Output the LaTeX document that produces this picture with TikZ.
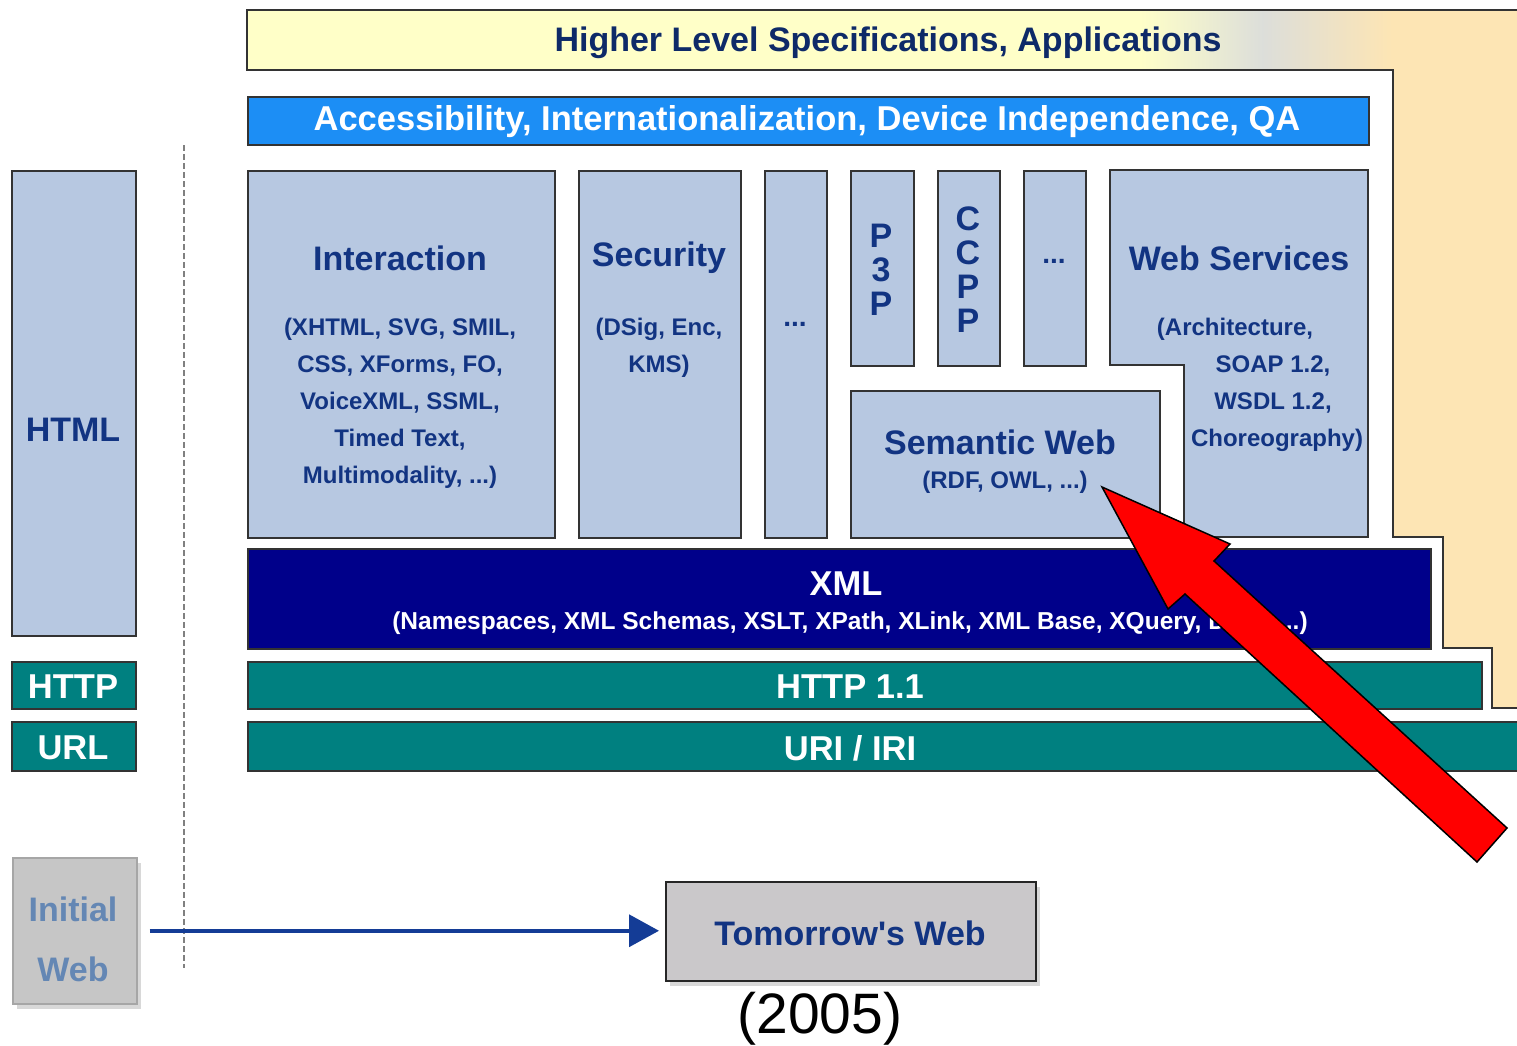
\documentclass[tikz,border=0pt]{standalone}
\usepackage{fontspec}
\setmainfont{Liberation Sans}
\usetikzlibrary{arrows.meta,shadows}

\definecolor{txtblue}{RGB}{18,52,130}
\definecolor{stackblue}{RGB}{183,200,225}
\definecolor{navy}{RGB}{0,0,138}
\definecolor{tealbar}{RGB}{0,128,128}
\definecolor{accblue}{RGB}{28,142,245}
\definecolor{lightyel}{RGB}{255,255,200}
\definecolor{midgray}{RGB}{220,222,218}
\definecolor{peach}{RGB}{253,229,180}
\definecolor{oldgray}{RGB}{198,198,198}
\definecolor{oldtext}{RGB}{100,135,180}
\definecolor{newgray}{RGB}{202,200,202}
\definecolor{linkblue}{RGB}{20,60,150}

\begin{document}
\begin{tikzpicture}[x=1pt,y=-1pt,
  outline/.style={draw=black!80, line width=1.8pt},
  tech/.style={outline, fill=stackblue, inner sep=0pt, anchor=north west},
  bar/.style={outline, inner sep=0pt, anchor=north west},
  head/.style={font=\fontsize{34}{40}\selectfont\bfseries, text=txtblue},
  body/.style={font=\fontsize{24}{37}\selectfont\bfseries, text=txtblue, align=center},
  bartext/.style={font=\fontsize{34.5}{40}\selectfont\bfseries, text=white},
  subtext/.style={font=\fontsize{24.5}{30}\selectfont\bfseries, text=white},
  webbox/.style={inner sep=0pt, anchor=north west,
    drop shadow={shadow xshift=4pt, shadow yshift=-5pt, opacity=0.3}},
]
\useasboundingbox (0,0) rectangle (1517,1046);
\clip (0,0) rectangle (1517,1046);
\fill[white] (0,0) rectangle (1517,1046);

% stepped background frame: higher level specifications
\fill[lightyel] (247,10) -- (1530,10) -- (1530,708) -- (1492,708) -- (1492,648)
  -- (1443,648) -- (1443,537) -- (1393,537) -- (1393,70) -- (247,70) -- cycle;
\begin{scope}
  \clip (247,10) -- (1530,10) -- (1530,708) -- (1492,708) -- (1492,648)
    -- (1443,648) -- (1443,537) -- (1393,537) -- (1393,70) -- (247,70) -- cycle;
  \shade[left color=lightyel, right color=midgray] (1140,0) rectangle (1263,720);
  \shade[left color=midgray, right color=peach] (1262,0) rectangle (1392,720);
  \fill[peach] (1391,0) rectangle (1530,720);
\end{scope}
\draw[outline] (247,10) -- (1530,10) -- (1530,708) -- (1492,708) -- (1492,648)
  -- (1443,648) -- (1443,537) -- (1393,537) -- (1393,70) -- (247,70) -- cycle;
\node[head, text=txtblue!80!black] (hl) at (888,43) {Higher Level Specifications, Applications};

% accessibility bar
\node[bar, fill=accblue, minimum width=1121pt, minimum height=48pt] (acc) at (247,96) {};
\node[bartext] at (807,122) {Accessibility, Internationalization, Device Independence, QA};

% left column: initial web stack
\node[tech, minimum width=124pt, minimum height=465pt] (html) at (11,170) {};
\node[head] at (73,430) {HTML};
\node[bar, fill=tealbar, minimum width=124pt, minimum height=47pt] (httpl) at (11,661) {};
\node[bartext] at (73,687) {HTTP};
\node[bar, fill=tealbar, minimum width=124pt, minimum height=49pt] (url) at (11,721) {};
\node[bartext] at (73,748) {URL};

% separator
\draw[gray, line width=1.2pt, dash pattern=on 6pt off 3pt] (184,145) -- (184,968);

% technology columns
\node[tech, minimum width=307pt, minimum height=367pt] (inter) at (247,170) {};
\node[head] at (400,258) {Interaction};
\node[body] at (400,403) {(XHTML, SVG, SMIL,\\CSS, XForms, FO,\\VoiceXML, SSML,\\Timed Text,\\Multimodality, ...)};

\node[tech, minimum width=162pt, minimum height=367pt] (sec) at (578,170) {};
\node[head] at (659,258) {Security};
\node[body] at (659,348) {(DSig, Enc,\\KMS)};

\node[tech, minimum width=62pt, minimum height=367pt] (more1) at (764,170) {};
\node[body, font=\fontsize{28}{30}\selectfont\bfseries] at (795,324) {...};

\node[tech, minimum width=63pt, minimum height=195pt] (p3p) at (850,170) {};
\node[head, align=center, font=\fontsize{34}{34}\selectfont\bfseries] at (881,270) {P\\3\\P};

\node[tech, minimum width=62pt, minimum height=195pt] (ccpp) at (937,170) {};
\node[head, align=center, font=\fontsize{34}{34}\selectfont\bfseries] at (968,270) {C\\C\\P\\P};

\node[tech, minimum width=62pt, minimum height=195pt] (more2) at (1023,170) {};
\node[body, font=\fontsize{28}{30}\selectfont\bfseries] at (1054,261) {...};

\node[tech, minimum width=309pt, minimum height=147pt] (sw) at (850,390) {};
\node[head] at (1000,442) {Semantic Web};
\node[body] at (1005,482) {(RDF, OWL, ...)};

\draw[outline, fill=stackblue] (1110,170) -- (1368,170) -- (1368,537) -- (1184,537)
  -- (1184,365) -- (1110,365) -- cycle;
\coordinate (ws) at (1239,258);
\node[head] at (ws) {Web Services};
\node[body] at (1235,329) {(Architecture,};
\node[body] at (1273,366) {SOAP 1.2,};
\node[body] at (1273,403) {WSDL 1.2,};
\node[body] at (1277,440) {Choreography)};

% XML layer
\node[bar, fill=navy, minimum width=1183pt, minimum height=100pt] (xml) at (247,548) {};
\node[bartext] at (846,584) {XML};
\node[subtext] at (850,623) {(Namespaces, XML Schemas, XSLT, XPath, XLink, XML Base, XQuery, DOM, ...)};

% transport and addressing
\node[bar, fill=tealbar, minimum width=1234pt, minimum height=47pt] (http) at (247,661) {};
\node[bartext] at (850,687) {HTTP 1.1};
\node[bar, fill=tealbar, minimum width=1300pt, minimum height=49pt] (uri) at (247,721) {};
\node[bartext] at (850,748) {URI / IRI};

% evolution
\node[webbox, fill=oldgray, draw=black!35, line width=1.5pt,
  minimum width=124pt, minimum height=146pt] (iw) at (12,857) {};
\node[align=center, font=\fontsize{34}{60}\selectfont\bfseries, text=oldtext] at (73,939) {Initial\\Web};
\node[webbox, fill=newgray, draw=black!85, line width=2pt,
  minimum width=370pt, minimum height=99pt] (tw) at (665,881) {};
\node[head] at (850,933) {Tomorrow\textquotesingle s Web};
\draw[linkblue, line width=3.5pt, -{Triangle[length=30pt,width=32pt]},
  shorten <=12pt, shorten >=6pt] (iw.east) -- (iw.east -| tw.west);
\node[font=\fontsize{57}{60}\selectfont] (year) at (820,1019) {(2005)};

% pointer to the semantic web
\draw[fill=red, draw=black, line width=1.5pt, line join=miter]
  (1102,487) -- (1230,544) -- (1214,561) -- (1507,828) -- (1477,862)
  -- (1185,594) -- (1168,609) -- cycle;
\end{tikzpicture}
\end{document}
